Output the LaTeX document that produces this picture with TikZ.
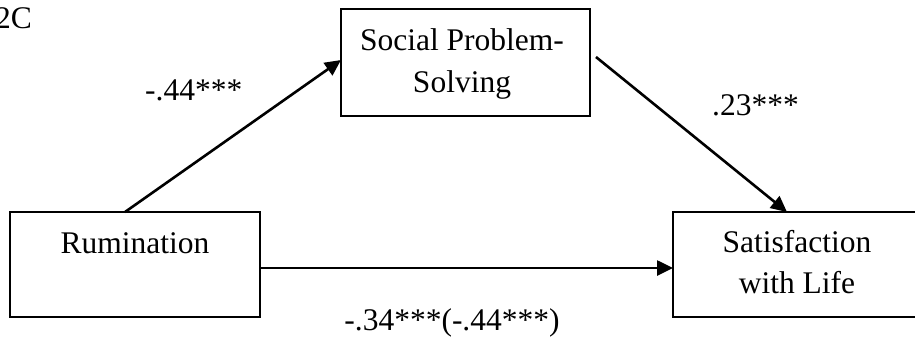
\documentclass[tikz,border=0pt]{standalone}
\usepackage{fontspec}
\setmainfont{Liberation Serif}
\usetikzlibrary{arrows.meta,calc}
\begin{document}
\begin{tikzpicture}[x=1pt,y=-1pt,
  every node/.style={font=\fontsize{31.5}{42}\selectfont},
  boxnode/.style={draw,line width=2pt,inner sep=0pt,outer sep=0pt,anchor=north west},
  txt/.style={inner sep=0pt,anchor=base},
  conn/.style={line width=2.6pt,-{Triangle[length=16pt,width=15pt]}}]
\useasboundingbox (0,0) rectangle (915,341);
\clip (0,0) rectangle (915,341);
\fill[white] (0,0) rectangle (915,341);
% boxes
\node[boxnode,minimum width=249pt,minimum height=107pt] (soc) at (341,9) {};
\node[boxnode,minimum width=250pt,minimum height=105pt] (rum) at (10,212) {};
\node[boxnode,minimum width=260pt,minimum height=105pt] (sat) at (673,212) {};
% texts
\node[txt] (soct1) at (462,50) {Social Problem-};
\node[txt] (soct2) at (462,92) {Solving};
\node[txt] (rumt) at (135,253) {Rumination};
\node[txt] (satt1) at (797,252) {Satisfaction};
\node[txt] (satt2) at (797,293) {with Life};
\node[txt,anchor=base west] (fig) at (-5,28) {2C};
\node[txt,anchor=base west] (la) at (145,100) {-.44***};
\node[txt,anchor=base west] (lb) at (712,115) {.23***};
\node[txt] (lc) at (452,330) {-.34***(-.44***)};
% connector points
\coordinate (a1) at ($(rum.north west)+(115,0)$);
\coordinate (a2) at ($(soc.north west)+(0,51)$);
\coordinate (b1) at ($(soc.north east)+(6,48)$);
\coordinate (b2) at ($(sat.north west)+(114,0)$);
\coordinate (c1) at ($(rum.north east)+(0,56)$);
\coordinate (c2) at (sat.west |- c1);
% connectors
\draw[conn] (a1) -- (a2);
\draw[conn] (b1) -- (b2);
\draw[conn] (c1) -- (c2);
\end{tikzpicture}
\end{document}
